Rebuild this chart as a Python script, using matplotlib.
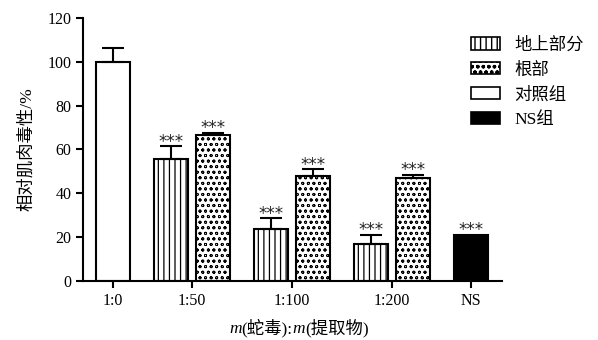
import matplotlib
matplotlib.use('Agg')
import matplotlib.pyplot as plt
import matplotlib.patches as mpatches
from matplotlib.offsetbox import TextArea, HPacker, AnnotationBbox
import numpy as np

# 字体：数字用 Times 风格，中文回落到 Noto CJK
plt.rcParams['font.family'] = ['Liberation Serif', 'Noto Sans CJK SC']
plt.rcParams['axes.unicode_minus'] = False

# ---------------------- 数据 ----------------------
groups = ['1:0', '1:50', '1:100', '1:200', 'NS']
aerial = [55.5, 23.5, 17.0]          # 地上部分
aerial_err = [6.0, 5.0, 4.0]
root = [66.5, 48.0, 47.0]            # 根部
root_err = [1.0, 3.0, 1.5]
control = 100.0                      # 对照组
control_err = 6.5
ns = 21.0                            # NS组

# ---------------------- 布局 ----------------------
tick_pos = np.array([0.0, 0.79, 1.79, 2.79, 3.585])
width = 0.34
offset = 0.21

fig = plt.figure(figsize=(5.98, 3.4), dpi=100)
ax = fig.add_axes([0.139, 0.174, 0.700, 0.773])

ekw = dict(elinewidth=1.5, capthick=1.5)
lw = 1.5

# 对照组
ax.bar(tick_pos[0], control, width, color='white', edgecolor='black', linewidth=lw,
       yerr=[[0], [control_err]], capsize=8, error_kw=ekw, zorder=2)

# 地上部分 / 根部
xa = tick_pos[1:4] - offset
xr = tick_pos[1:4] + offset
with plt.rc_context({'hatch.linewidth': 0.9}):
    ax.bar(xa, aerial, width, color='white', edgecolor='black', linewidth=lw, hatch='|||',
           yerr=[np.zeros(3), aerial_err], capsize=8, error_kw=ekw, zorder=2)
    h_aerial = mpatches.Patch(facecolor='white', edgecolor='black', hatch='|||', linewidth=1.2)
with plt.rc_context({'hatch.linewidth': 0.6, 'hatch.color': '#333333'}):
    ax.bar(xr, root, width, color='white', edgecolor='black', linewidth=lw, hatch='ooo',
           yerr=[np.zeros(3), root_err], capsize=8, error_kw=ekw, zorder=2)
    h_root = mpatches.Patch(facecolor='white', edgecolor='black', hatch='ooo', linewidth=1.2)

# NS组
ax.bar(tick_pos[4], ns, width, color='black', edgecolor='black', linewidth=lw, zorder=2)

# 显著性标记
star_kw = dict(ha='center', va='bottom', fontsize=12, color='#222222', family='DejaVu Sans')
for x, v, e in zip(xa, aerial, aerial_err):
    ax.text(x, v + e - 2.0, '***', **star_kw)
for x, v, e in zip(xr, root, root_err):
    ax.text(x, v + e - 2.0, '***', **star_kw)
ax.text(tick_pos[4], ns - 2.0, '***', **star_kw)

# 坐标轴
ax.set_xlim(-0.30, 3.89)
ax.set_ylim(0, 120)
ax.set_yticks(np.arange(0, 121, 20))
ax.set_xticks(tick_pos)
ax.set_xticklabels(groups)
ax.tick_params(axis='both', direction='out', length=5, width=1.5, labelsize=11.5)
ax.spines['top'].set_visible(False)
ax.spines['right'].set_visible(False)
ax.spines['left'].set_linewidth(1.5)
ax.spines['bottom'].set_linewidth(1.5)

ax.set_ylabel('相对肌肉毒性/%', fontsize=12.5, labelpad=9)

# x 轴标题：m 用斜体
parts = [('m', dict(style='italic')), ('(蛇毒):', {}), ('m', dict(style='italic')), ('(提取物)', {})]
boxes = [TextArea(s, textprops=dict(fontsize=12.5, **p)) for s, p in parts]
xlabel = HPacker(children=boxes, align='baseline', pad=0, sep=0)
ab = AnnotationBbox(xlabel, (0.5, 0.035), xycoords='figure fraction', frameon=False,
                    box_alignment=(0.5, 0.5))
fig.add_artist(ab)

# 图例
h_ctrl = mpatches.Patch(facecolor='white', edgecolor='black', linewidth=1.2)
h_ns = mpatches.Patch(facecolor='black', edgecolor='black', linewidth=1.2)
fig.legend([h_aerial, h_root, h_ctrl, h_ns], ['地上部分', '根部', '对照组', 'NS组'],
           loc='upper left', bbox_to_anchor=(0.787, 0.89), frameon=False,
           fontsize=12.5, handlelength=1.7, handleheight=0.7, labelspacing=0.5,
           handletextpad=0.8, borderpad=0, borderaxespad=0)

plt.savefig('out.png', dpi=100)
